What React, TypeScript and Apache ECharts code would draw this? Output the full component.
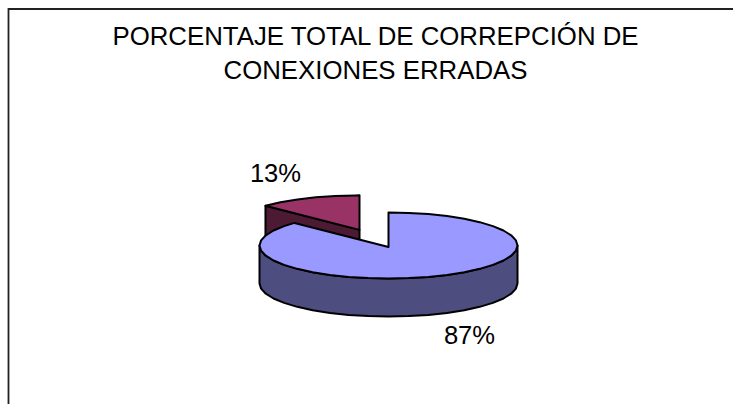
import React, { useEffect, useRef } from "react";
import * as echarts from "echarts";

const titleLines = ["PORCENTAJE TOTAL DE CORREPCIÓN DE", "CONEXIONES ERRADAS"];
const categories = ["Correctas", "Corregidas"];
const values = [87, 13];
const labels = ["87%", "13%"];
const topColors = ["#9999FF", "#993366"];
const sideColors = ["#4D4D80", "#4D1A33"];

const CX = 388.5;
const CY = 245.5;
const RX = 129;
const RY = 33;
const DEPTH = 38;
const EXPLODE = [0, 73];
const LABEL_POS = [
  [469.5, 335],
  [275.5, 173],
];
const STEP = 9;

function pt(cx: number, cy: number, deg: number): number[] {
  const a = (deg * Math.PI) / 180;
  return [cx + RX * Math.sin(a), cy - RY * Math.cos(a)];
}

function arcPts(cx: number, cy: number, from: number, to: number): number[][] {
  const out: number[][] = [];
  for (let d = from; d < to; d += STEP) out.push(pt(cx, cy, d));
  out.push(pt(cx, cy, to));
  return out;
}

const total = values.reduce((a, b) => a + b, 0);

function renderItem(_: any, api: any) {
  const i = api.value(0);
  let start = 0;
  for (let k = 0; k < i; k++) start += (values[k] / total) * 360;
  const end = start + (api.value(1) / total) * 360;
  const mid = ((start + end) / 2) * (Math.PI / 180);
  const ex = EXPLODE[i];
  const cx = CX + ex * Math.sin(mid);
  const cy = CY - ex * (RY / RX) * Math.cos(mid);
  const stroke = { stroke: "#000", lineWidth: 2, lineJoin: "round" };
  const children: any[] = [];
  const apex = [cx, cy + 1.5];
  if (i === 1) {
    const a = pt(cx, cy, start);
    children.push({
      type: "polygon",
      shape: { points: [a, apex, [apex[0], apex[1] + DEPTH], [a[0], a[1] + DEPTH]] },
      style: { fill: sideColors[i], ...stroke },
    });
  }
  const wf = Math.max(start, 90);
  const wt = Math.min(end, 270);
  if (wt > wf) {
    const topEdge = arcPts(cx, cy, wf, wt);
    const botEdge = arcPts(cx, cy + DEPTH, wf, wt).reverse();
    children.push({
      type: "polygon",
      shape: { points: [...topEdge, ...botEdge] },
      style: { fill: sideColors[i], ...stroke },
    });
  }
  children.push({
    type: "polygon",
    shape: { points: [apex, ...arcPts(cx, cy, start, end)] },
    style: { fill: topColors[i], ...stroke },
  });
  children.push({
    type: "text",
    style: {
      text: labels[i],
      x: LABEL_POS[i][0],
      y: LABEL_POS[i][1],
      fill: "#000",
      font: '25.6px "Liberation Sans", Arial, sans-serif',
      align: "center",
      verticalAlign: "middle",
    },
  });
  return { type: "group", children };
}

export default function App() {
  const ref = useRef<HTMLDivElement>(null);
  useEffect(() => {
    document.body.style.margin = "0";
    const chart = echarts.init(ref.current!, undefined, { renderer: "svg" });
    chart.setOption({
      animation: false,
      backgroundColor: "#fff",
      title: {
        text: titleLines.join("\n"),
        left: 370.5,
        top: 14,
        textAlign: "center",
        textStyle: {
          fontFamily: '"Liberation Sans", Arial, sans-serif',
          fontSize: 25.8,
          fontWeight: "normal",
          color: "#000",
          lineHeight: 34,
        },
      },
      graphic: [
        {
          type: "polyline",
          shape: { points: [[8.5, 404], [8.5, 9], [733, 9]] },
          style: { fill: "none", stroke: "#222", lineWidth: 1.8 },
          silent: true,
        },
      ],
      series: [
        {
          type: "custom",
          coordinateSystem: "none",
          renderItem,
          silent: true,
          data: [
            { name: categories[1], value: [1, values[1]] },
            { name: categories[0], value: [0, values[0]] },
          ],
        },
      ],
    });
    return () => chart.dispose();
  }, []);
  return <div ref={ref} style={{ width: 733, height: 404 }} />;
}
